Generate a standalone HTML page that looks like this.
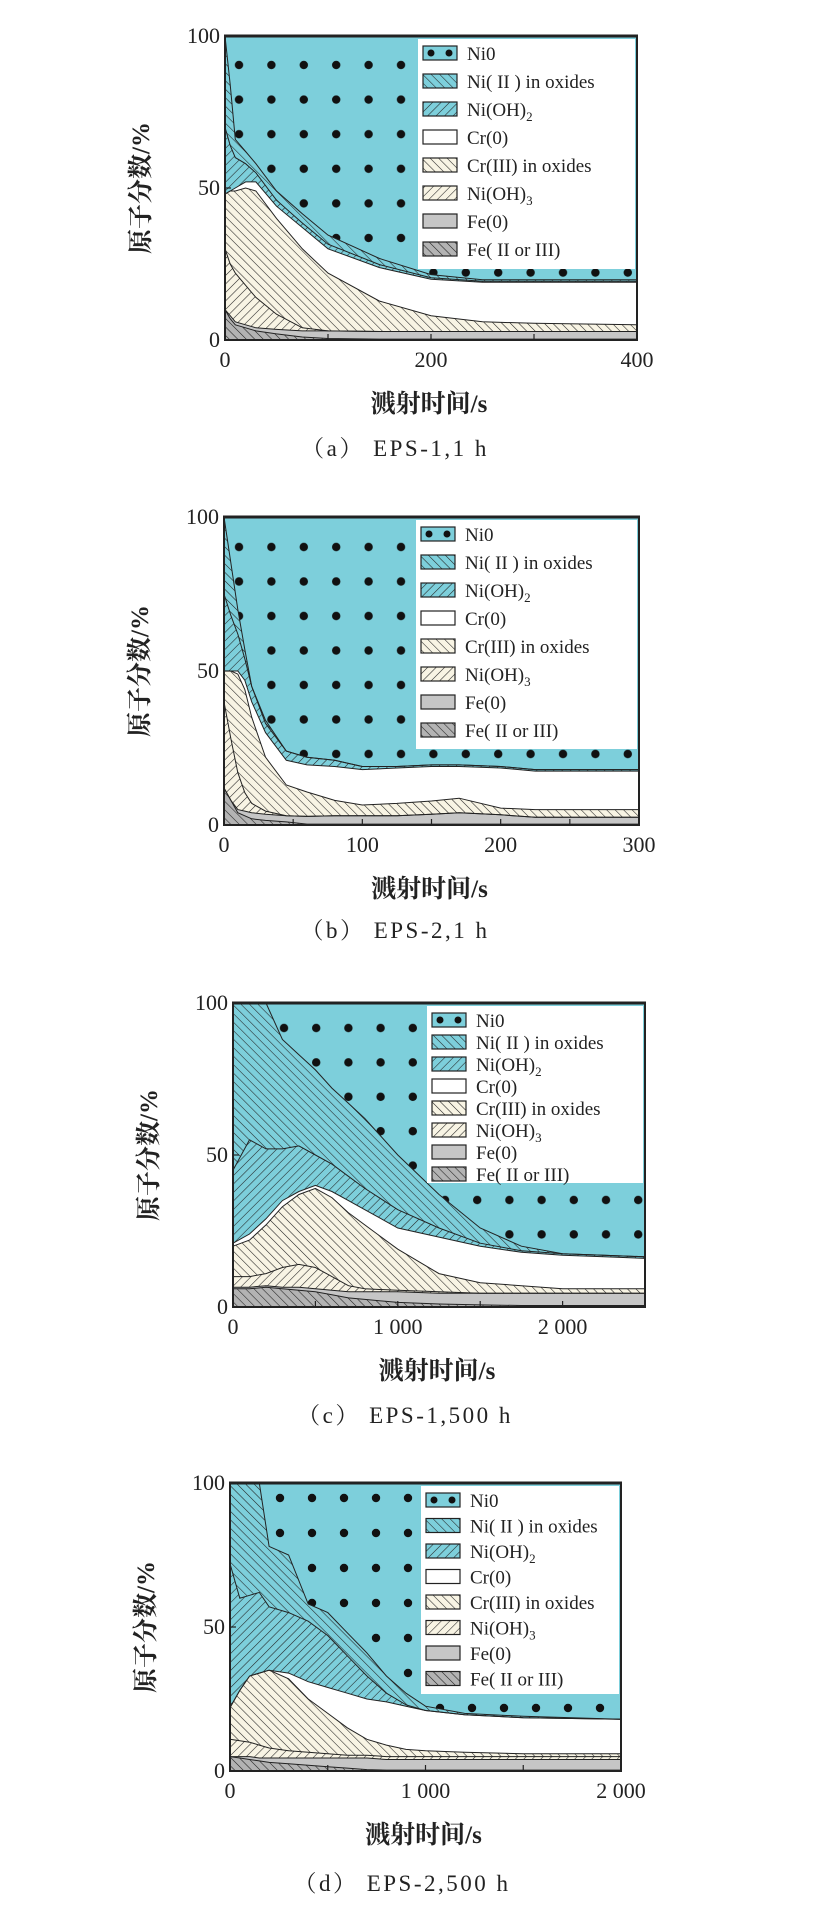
<!DOCTYPE html>
<html><head><meta charset="utf-8">
<style>
html,body{margin:0;padding:0;background:#fff;}
svg{display:block;}
.tk{font-family:"Liberation Serif",serif;font-size:22px;fill:#222;}
.lg{font-family:"Liberation Serif",serif;font-size:19px;fill:#222;}
.ttl{font-family:"Liberation Serif","Noto Serif CJK SC","Noto Sans CJK SC",serif;font-size:25px;font-weight:bold;fill:#222;}
.cap{font-family:"Liberation Serif","Noto Serif CJK SC",serif;font-size:23px;fill:#222;letter-spacing:2.5px;}
</style></head>
<body>
<svg id="fig" width="821" height="1916" viewBox="0 0 821 1916" xmlns="http://www.w3.org/2000/svg">
<defs id="defs"></defs>
</svg>
<script>
// ---- Panel (a) EPS-1, 1 h : layer thicknesses (%) ----
const aTimes=[0,5,10,20,30,50,75,100,150,200,250,300,400];
const aFeII=[10,7,5,4,3,2,1,0.5,0.3,0.3,0.3,0.3,0.3];
const aFe0=[0,1,1,1,1,1.5,2,2.5,2.5,2.5,2.5,2.5,2.5];
const aNiOH3=[20,17,16,13,10,5,1,0,0,0,0,0,0];
const aCrIII=[18,24,27,32,35,31.5,26,19,10,5.2,3.2,2.7,2.2];
const aCr0=[0,0,1,2,3,4,7,8,11,12,13,13.5,14];
const aNiOH2=[22,15,10,6,3,2,1.5,1.5,1,0.5,0.3,0.3,0.3];
const aNiII=[30,20,6,4,3,3,3,3,2,1,0.5,0.5,0.5];
const aXTicks=[0,100,200,300,400];
const aXLabels=["0","","200","","400"];
// ---- Panel (b) EPS-2, 1 h : layer thicknesses (%) ----
const bTimes=[0,5,10,15,20,30,45,60,80,100,125,150,170,200,225,250,300];
const bFeII=[12,8,4,3,2,1.5,1,0.3,0.3,0.3,0.3,0.3,0.3,0.3,0.3,0.3,0.3];
const bFe0=[0,0,1,1.5,2,2,2,2.5,2.7,2.7,2.7,3.2,3.7,3,2.2,2.2,2.2];
const bNiOH3=[28,20,12,6,3,1,0,0,0,0,0,0,0,0,0,0,0];
const bCrIII=[10,22,32,33.5,28,17.5,10,7.9,5,3.5,4,4.3,4.7,2.2,2.5,2.5,2.5];
const bCr0=[0,0,1,3,5,8,8,8.8,11,11.5,11.5,11.2,10.3,13,12.5,12.5,12.5];
const bNiOH2=[25,18,12,7,5,3,3,2.5,2,1,0.5,0.5,0.5,0.5,0.5,0.5,0.5];
const bNiII=[25,17,8,3,0,1,0,0,0,0,0,0,0,0,0,0,0];
const bXTicks=[0,50,100,150,200,250,300];
const bXLabels=["0","","100","","200","","300"];
// ---- Panel (c) EPS-1, 500 h : upper boundary of each layer (cumulative %) ----
const cTimes=[0,100,200,300,400,500,600,700,800,1000,1250,1500,1750,2000,2250,2500];
const cFeIITop=[6,6,6.5,6,5.5,5,4,3,2.5,1.5,1,0.7,0.5,0.5,0.5,0.5];
const cFe0Top=[6.5,6.5,7,6.5,6.5,6,5.5,5,5,5,4.5,4.5,4.5,4.5,4.5,4.5];
const cNiOH3Top=[10,10,11,13,14,13,10,7,6,5.5,5,4.5,4.5,4.5,4.5,4.5];
const cCrIIITop=[20,22,27,33,37,39,36,31,27,19,11,8,7,6,6,6];
const cCr0Top=[21,24,29,35,38,40,38,35,32,26,23,20,18,17,16.5,16];
const cNiOH2Top=[45,55,52,52,53,50,47,43,39,32,26,21,18.5,17.5,17,16.5];
const cNiIITop=[100,100,100,88,83,78,72,67,62,50,37,26,20,17.5,17,16.5];
const cXTicks=[0,500,1000,1500,2000,2500];
const cXLabels=["0","","1 000","","2 000",""];
// ---- Panel (d) EPS-2, 500 h : upper boundary of each layer (cumulative %) ----
const dTimes=[0,50,100,150,200,300,400,500,600,700,800,900,1000,1200,1500,2000];
const dFeIITop=[5,4.5,4,3.5,3,2.5,2,1.5,1,0.5,0.3,0.3,0.3,0.3,0.3,0.3];
const dFe0Top=[5,5,5,4.5,4.5,4.5,4.5,4.5,4.5,4.5,4,4,4,4,4,4];
const dNiOH3Top=[11,10.5,10,9,8,7,6.5,6,5.5,5.5,5,5,5,5,5,5];
const dCrIIITop=[22,28,33,34,35,32,25,20,15,11,9,7.5,7,6.5,6,6];
const dCr0Top=[22,28,33,34,35,34,31,29,27,25,24,22.5,21,19.5,18.5,18];
const dNiOH2Top=[72,60,61,62,57,55,52,47,40,33,27,23,21,19.5,18.5,18];
const dNiIITop=[100,100,100,100,78,75,58,55,48,41,33,27,22.5,20,19,18];
const dXTicks=[0,500,1000,1500,2000];
const dXLabels=["0","","1 000","","2 000"];

const legendNames=["Ni0","Ni( II ) in oxides","Ni(OH)2","Cr(0)","Cr(III) in oxides","Ni(OH)3","Fe(0)","Fe( II or III)"];

const NS="http://www.w3.org/2000/svg";
const svg=document.getElementById('fig');
const defs=document.getElementById('defs');
function mk(tag,attrs,parent){const e=document.createElementNS(NS,tag);for(const k in attrs)e.setAttribute(k,attrs[k]);(parent||svg).appendChild(e);return e;}

const CYAN="#7dcfdb", CREAM="#f8f4e4", G0="#c6c6c6", G1="#b3b3b3";
function hatch(id,bg,angle){
  const p=mk('pattern',{id:id,width:6,height:6,patternUnits:'userSpaceOnUse',patternTransform:'rotate('+angle+')'},defs);
  mk('rect',{width:6,height:6,fill:bg},p);
  mk('line',{x1:0,y1:0,x2:0,y2:6,stroke:'#222','stroke-width':1.1},p);
}
hatch('hNiII',CYAN,-45);hatch('hNiOH2',CYAN,45);hatch('hCrIII',CREAM,-45);hatch('hNiOH3',CREAM,45);hatch('hFeII',G1,-45);
function dots(id,x0,y0,w,h){
  const p=mk('pattern',{id:id,x:x0-w/2,y:y0-h/2,width:w,height:h,patternUnits:'userSpaceOnUse'},defs);
  mk('rect',{width:w,height:h,fill:CYAN},p);
  mk('circle',{cx:w/2,cy:h/2,r:4.2,fill:'#111'},p);
}
const legendFills=['ldots','url(#hNiII)','url(#hNiOH2)','#fff','url(#hCrIII)','url(#hNiOH3)',G0,'url(#hFeII)'];
const layerFills=['url(#hFeII)',G0,'url(#hNiOH3)','url(#hCrIII)','#fff','url(#hNiOH2)','url(#hNiII)'];
const layerNames=['fe-ii-iii-area','fe0-area','ni-oh3-area','cr-iii-area','cr0-area','ni-oh2-area','ni-ii-area'];

function cumsum(arrs){const out=[];let run=arrs[0].map(()=>0);for(const a of arrs){run=run.map((v,i)=>v+a[i]);out.push(run.slice());}return out;}

function panel(P,times,tops,xTicks,xLabels){
  const g=mk('g',{});
  
  
  const X=t=>P.L+(t-0)/P.xmax*(P.R-P.L);
  const Y=v=>P.B-v/100*(P.B-P.T);
  dots('dots'+P.id,P.dx,P.dy,P.dw,P.dh);
  const n=times.length;
  const all=tops.concat([times.map(()=>100)]);
  const fills=layerFills.concat(['url(#dots'+P.id+')']);
  const names=layerNames.concat(['ni0-area']);
  for(let i=all.length-1;i>=0;i--){
    const lower=i===0?times.map(()=>0):all[i-1];
    const upper=all[i].map((v,k)=>Math.max(v,lower[k]));
    let d='';
    for(let k=0;k<n;k++)d+=(k?'L':'M')+X(times[k]).toFixed(1)+','+Y(upper[k]).toFixed(1);
    for(let k=n-1;k>=0;k--)d+='L'+X(times[k]).toFixed(1)+','+Y(lower[k]).toFixed(1);
    d+='Z';
    const p=mk('path',{d:d,fill:fills[i],stroke:'none'},g);
    
    
  }
  for(let i=0;i<tops.length;i++){
    let d='';
    for(let k=0;k<n;k++)d+=(k?'L':'M')+X(times[k]).toFixed(1)+','+Y(tops[i][k]).toFixed(1);
    mk('path',{d:d,fill:'none',stroke:'#222','stroke-width':1},g);
  }
  const lg=mk('g',{},g);
  
  
  mk('rect',{x:P.lx,y:P.ly,width:P.R-P.lx-2,height:P.lh,fill:'#fff'},lg);
  for(let i=0;i<8;i++){
    const yy=P.ly+14+i*P.ls;
    const e=mk('g',{},lg);
    
    
    mk('rect',{x:P.lx+5,y:yy-7,width:34,height:14,fill:i===0?CYAN:legendFills[i],stroke:'#222','stroke-width':1.2},e);
    if(i===0){mk('circle',{cx:P.lx+13,cy:yy,r:3.5,fill:'#111'},e);mk('circle',{cx:P.lx+31,cy:yy,r:3.5,fill:'#111'},e);}
    const t=mk('text',{x:P.lx+49,y:yy+7,class:'lg'},e);
    const nm=legendNames[i];
    if(nm.startsWith('Ni(OH)')){t.textContent='Ni(OH)';const s=mk('tspan',{dy:5,'font-size':13},t);s.textContent=nm.slice(6);}
    else t.textContent=nm;
  }
  const fr=mk('rect',{x:P.L,y:P.T,width:P.R-P.L,height:P.B-P.T,fill:'none',stroke:'#222','stroke-width':2},g);
  
  
  mk('line',{x1:P.L-1,y1:P.T,x2:P.R+1,y2:P.T,stroke:'#222','stroke-width':3},g);
  [0,50,100].forEach(v=>{
    mk('line',{x1:P.L,y1:Y(v),x2:P.L+6,y2:Y(v),stroke:'#222','stroke-width':1.2},g);
    const t=mk('text',{x:P.L-5,y:Y(v)+7,class:'tk','text-anchor':'end'},g);
    
    
    t.textContent=v;
  });
  xTicks.forEach((v,i)=>{
    mk('line',{x1:X(v),y1:P.B,x2:X(v),y2:P.B-6,stroke:'#222','stroke-width':1.2},g);
    if(xLabels[i]){
      const t=mk('text',{x:X(v),y:P.B+27,class:'tk','text-anchor':'middle'},g);
      
      
      t.textContent=xLabels[i];
    }
  });
  const yt=mk('text',{x:0,y:0,class:'ttl','text-anchor':'middle',transform:'translate('+(P.L-76)+','+((P.T+P.B)/2)+') rotate(-90)'},g);
  
  
  yt.textContent='原子分数/%';
  const xt=mk('text',{x:(P.L+P.R)/2-2,y:P.B+72,class:'ttl','text-anchor':'middle'},g);
  
  
  xt.textContent='溅射时间/s';
  const cp=mk('text',{x:P.cx,y:P.cy,class:'cap','text-anchor':'middle','xml:space':'preserve'},g);
  
  
  cp.textContent=P.cap;
}

panel({id:'a',L:225,R:637,T:36,B:340,xmax:400,dx:239,dy:65,dw:32.4,dh:34.6,lx:418,ly:39,lh:230,ls:28,cx:395,cy:456,cap:'（a） EPS-1,1 h'},
  aTimes,cumsum([aFeII,aFe0,aNiOH3,aCrIII,aCr0,aNiOH2,aNiII]),aXTicks,aXLabels);
panel({id:'b',L:224,R:639,T:517,B:825,xmax:300,dx:239,dy:547,dw:32.4,dh:34.5,lx:416,ly:520,lh:229,ls:28,cx:395,cy:938,cap:'（b） EPS-2,1 h'},
  bTimes,cumsum([bFeII,bFe0,bNiOH3,bCrIII,bCr0,bNiOH2,bNiII]),bXTicks,bXLabels);
panel({id:'c',L:233,R:645,T:1003,B:1307,xmax:2500,dx:284,dy:1028,dw:32.2,dh:34.4,lx:427,ly:1006,lh:177,ls:22,cx:405,cy:1423,cap:'（c） EPS-1,500 h'},
  cTimes,[cFeIITop,cFe0Top,cNiOH3Top,cCrIIITop,cCr0Top,cNiOH2Top,cNiIITop],cXTicks,cXLabels);
panel({id:'d',L:230,R:621,T:1483,B:1771,xmax:2000,dx:280,dy:1498,dw:32,dh:35,lx:421,ly:1486,lh:208,ls:25.5,cx:402,cy:1891,cap:'（d） EPS-2,500 h'},
  dTimes,[dFeIITop,dFe0Top,dNiOH3Top,dCrIIITop,dCr0Top,dNiOH2Top,dNiIITop],dXTicks,dXLabels);
</script>
</body></html>
